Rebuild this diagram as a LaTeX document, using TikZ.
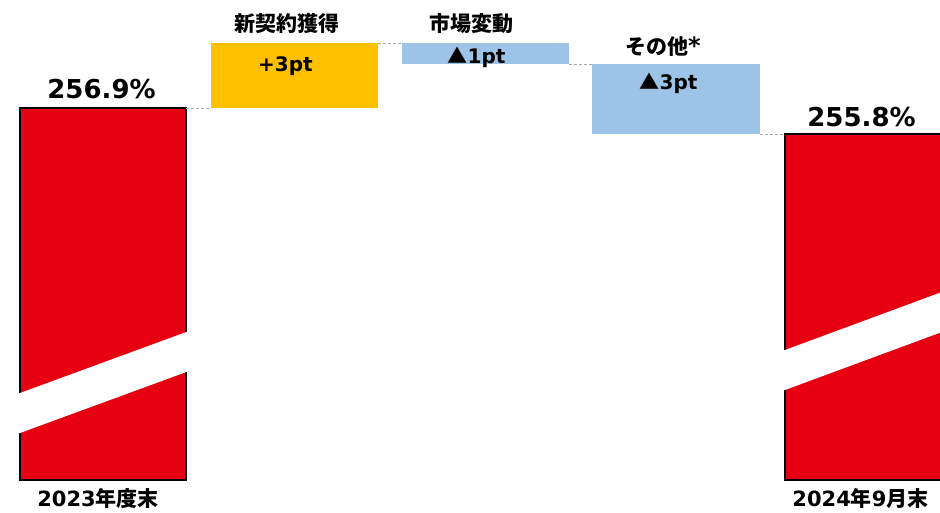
\documentclass[tikz,border=0pt]{standalone}
\usepackage{fontspec}
\setmainfont{DejaVu Sans}
\newfontfamily\jp{Noto Sans CJK JP}
\definecolor{barred}{RGB}{230,0,18}
\definecolor{plusyel}{RGB}{255,192,0}
\definecolor{minblue}{RGB}{157,195,230}
\definecolor{dashgray}{RGB}{166,166,166}
\begin{document}
\begin{tikzpicture}[x=1pt,y=-1pt,
  redbar/.style={draw=black,line width=1.6pt,fill=barred,rectangle,anchor=north west,inner sep=0pt,outer sep=0pt},
  stepbox/.style={rectangle,anchor=north west,inner sep=0pt,outer sep=0pt},
  conn/.style={draw=dashgray,dashed,line width=0.8pt,dash pattern=on 3pt off 2pt},
  pct/.style={anchor=base,inner sep=0pt,font=\fontsize{26}{26}\selectfont\bfseries},
  val/.style={anchor=base,inner sep=0pt,font=\fontsize{20}{20}\selectfont\bfseries},
  lab/.style={anchor=base,inner sep=0pt,font=\fontsize{21}{21}\selectfont\bfseries}]
\useasboundingbox (0,0) rectangle (940,512);
\clip (0,0) rectangle (940,512);
% bars
\node[redbar,minimum width=166pt,minimum height=372pt] (b1) at (20,108) {};
\node[redbar,minimum width=160pt,minimum height=346pt] (b5) at (785,134) {};
\node[stepbox,fill=plusyel,minimum width=167pt,minimum height=65pt] (b2) at (211,43) {};
\node[stepbox,fill=minblue,minimum width=167pt,minimum height=21pt] (b3) at (402,43) {};
\node[stepbox,fill=minblue,minimum width=168pt,minimum height=70pt] (b4) at (592,64) {};
% breaks
\fill[white] (14,395.2) -- (192,329.9) -- (192,369.9) -- (14,435.2) -- cycle;
\fill[white] (779,352.2) -- (950,289) -- (950,329) -- (779,392.2) -- cycle;
% connectors
\draw[conn] (b1.north east) -- (b2.south west);
\draw[conn] (b2.north east) -- (b3.north west);
\draw[conn] (b3.south east) -- (b4.north west);
\draw[conn] (b4.south east) -- (b5.north west);
% labels
\node[pct] (p1) at (101.5,98) {256.9\%};
\node[pct] (p5) at (861.5,126) {255.8\%};
\node[lab] (l2) at (286.5,31) {\jp 新契約獲得};
\node[lab] (l3) at (471,31) {\jp 市場変動};
\node[lab] (l4) at (663,54.5) {\jp その他\rmfamily\fontsize{24}{24}\selectfont*};
\node[val] (v2) at (285.5,71.5) {+3pt};
\node[val] (v3) at (476.5,63.3) {{\jp ▲}1pt};
\node[val] (v4) at (668.5,89) {{\jp ▲}3pt};
\node[lab] (x1) at (98,506) {2023\jp 年度末};
\node[lab] (x5) at (860.5,506.5) {2024\jp 年\rmfamily 9\jp 月末};
\end{tikzpicture}
\end{document}
